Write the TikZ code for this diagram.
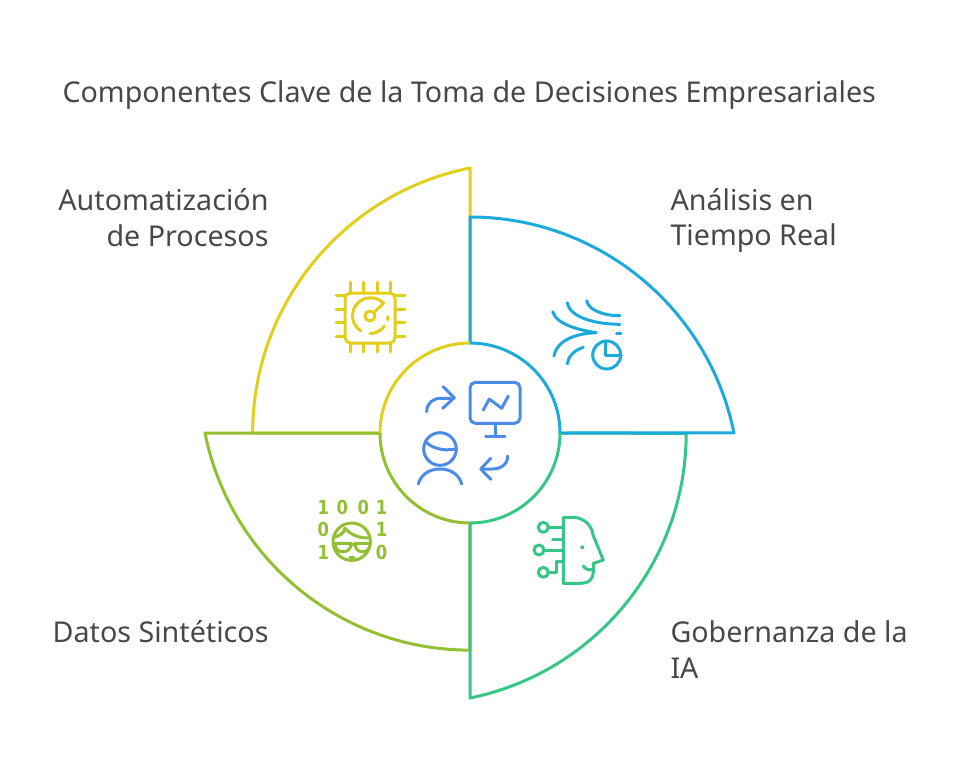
\documentclass[tikz,border=0pt]{standalone}
\usepackage{fontspec}
\setmainfont{Noto Sans}
\newfontfamily\digitfont[FakeStretch=0.85]{DejaVu Sans}
\definecolor{yellowline}{HTML}{E2CF1B}
\definecolor{blueline}{HTML}{1CA9DC}
\definecolor{greenline}{HTML}{36C685}
\definecolor{oliveline}{HTML}{93BF33}
\definecolor{centerline}{HTML}{4C8BE8}
\definecolor{labeltext}{HTML}{484848}
\begin{document}
\begin{tikzpicture}[x=.75pt,y=-.75pt,line width=2.25pt,line join=round]
\useasboundingbox (0,0) rectangle (957,772);
%sectors
\draw[yellowline] (470,343) -- (470,168) arc[start angle=-101.3,end angle=-180,radius=270.3] -- (380,433);
\draw[oliveline] (380,433) -- (205,433) arc[start angle=168.7,end angle=90,radius=270] -- (470,523);
\draw[greenline] (470,523) -- (470,698) arc[start angle=78.5,end angle=0,radius=270] -- (560,433);
\draw[blueline] (470,343) -- (470,217) arc[start angle=-90,end angle=-11.46,radius=269.3] -- (560,433);
%center
\draw[yellowline] (380,433) arc[start angle=180,end angle=270,radius=90];
\draw[blueline] (470,343) arc[start angle=270,end angle=360,radius=90];
\draw[greenline] (560,433) arc[start angle=0,end angle=90,radius=90];
\draw[oliveline] (470,523) arc[start angle=90,end angle=180,radius=90];
\begin{scope}[every node/.style={text=labeltext,font=\fontsize{21.5pt}{26.5pt}\selectfont,inner sep=0pt}]
\node[anchor=west] (title) at (61,95) {Componentes Clave de la Toma de Decisiones Empresariales};
\node[anchor=east,align=right] (automation) at (270,217.5) {Automatización\\de Procesos};
\node[anchor=west,align=left] (analysis) at (669,220.5) {Análisis en\\Tiempo Real};
\node[anchor=east] (synthetic) at (270,632) {Datos Sintéticos};
\node[anchor=west,align=left] (governance) at (669,649.5) {Gobernanza de la\\IA};
\end{scope}
%chip
\begin{scope}[yellowline,line cap=round]
\draw[rounded corners=4pt] (345,293) rectangle (395,343);
\foreach \pos in {350,363.5,377,390.5} {
  \draw (\pos,282) -- (\pos,293);
  \draw (\pos,343) -- (\pos,352);
}
\foreach \pos in {295,309,322.5,336} {
  \draw (336,\pos) -- (345,\pos);
  \draw (395,\pos) -- (405,\pos);
}
\draw (370,316) circle[radius=5];
\draw (361,331) arc[start angle=122,end angle=316,radius=18] -- (374,312.5);
\draw (370,333.5) arc[start angle=90,end angle=35,radius=17.5];
\draw (388,316.5) -- (387.7,320);
\end{scope}
%flows
\begin{scope}[blueline,line cap=round]
\draw (586.7,300.7) .. controls (588.3,310) and (603.3,315.7) .. (620,315.7);
\draw (567.3,302.7) .. controls (570,318) and (596.7,324.3) .. (620,324.3);
\draw (552.7,311.7) .. controls (556.7,325) and (580,330) .. (596,332.7);
\draw (596,332.7) .. controls (576.7,333.3) and (556.7,340) .. (554,356);
\draw (583.3,347.3) .. controls (573.3,350.7) and (568.3,356.7) .. (567.3,364);
\draw (616.7,333.3) -- (620.7,333.3);
\draw (606.7,355) circle[radius=14];
\draw (605.7,341) -- (605.7,355) -- (621,355);
\end{scope}
%center icons
\begin{scope}[centerline,line cap=round]
\draw[rounded corners=4pt] (470,382.3) rectangle (520,423.3);
\draw (495.7,423.3) -- (495.7,436.7);
\draw (485.7,436.7) -- (505,436.7);
\draw (483.3,410) -- (489.3,399) -- (501.7,408.3) -- (508.3,396);
\draw (426.7,411.7) .. controls (426.7,403) and (433,398.3) .. (441,398.3) -- (453.3,398.3);
\draw (443.3,386.7) -- (454.3,397.7) -- (442.7,408.3);
\draw (507.7,456) .. controls (507.7,465) and (500,469) .. (492,469) -- (481,469);
\draw (490.7,458.3) -- (480.7,469) -- (490.7,479.3);
\draw (440,449) circle[radius=16.3];
\draw (426,441.7) .. controls (430,447.3) and (443,451.7) .. (455,449);
\draw (418.3,484) .. controls (421,474) and (430,469) .. (440,469) .. controls (450,469) and (459,474) .. (461.7,484);
\end{scope}
%face and digits
\begin{scope}[oliveline,line cap=round]
\begin{scope}[every node/.style={text=oliveline,font=\digitfont\bfseries\fontsize{14.5pt}{14.5pt}\selectfont,inner sep=0pt}]
\node (d1) at (323.3,507) {1};
\node (d2) at (342.3,507) {0};
\node (d3) at (363.3,507) {0};
\node (d4) at (381.7,507) {1};
\node (d5) at (323.3,529.3) {0};
\node (d6) at (381.7,529.3) {1};
\node (d7) at (323.3,552.3) {1};
\node (d8) at (381.7,552.3) {0};
\end{scope}
\draw (351.7,541.7) circle[radius=18.7];
\draw (334.5,537) .. controls (340,536) and (344,533) .. (345,528.3) .. controls (350,534) and (358,538) .. (367.7,538);
\draw (335,543.3) -- (351,543.3) .. controls (351,549) and (348,551.7) .. (343,551.7) .. controls (338,551.7) and (335,549) .. (335,543.3);
\draw (355,543.3) -- (370,543.3) .. controls (370,549) and (367,551.7) .. (362.5,551.7) .. controls (358,551.7) and (355,549) .. (355,543.3);
\draw (351,544.5) -- (355,544.5);
\draw (349.8,557.3) -- (354,557.3);
\end{scope}
%head
\begin{scope}[greenline,line cap=round]
\draw (563.3,517.3) -- (563.3,583.3) -- (580,583.3) .. controls (590,583.3) and (593.3,578) .. (593.3,572) -- (593.3,563.3) -- (603.3,560) -- (593,535) .. controls (592,525) and (583,517.3) .. (573,517.3) -- cycle;
\fill (582.3,547.3) circle[radius=2];
\draw (583.3,566) .. controls (585,569) and (589,570.5) .. (593,569.5);
\draw (543.3,527.3) circle[radius=5];
\draw (548.3,527.3) -- (563.3,527.3);
\draw (552.7,539.3) -- (563.3,539.3);
\draw (539,550) circle[radius=5];
\draw (544,550) -- (563.3,550);
\draw (543.3,572.3) circle[radius=5];
\draw (548.3,572.3) -- (556,572.3) -- (556,561.7) -- (563.3,561.7);
\end{scope}
\end{tikzpicture}
\end{document}
